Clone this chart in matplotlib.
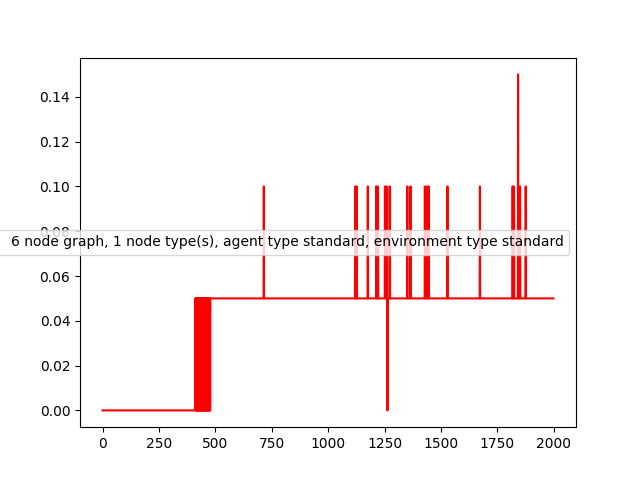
"""Reward trace for the 6-node graph run, redrawn as a single red line."""

import numpy as np
import matplotlib

matplotlib.use("Agg")
import matplotlib.pyplot as plt

N_STEPS = 2000
START_LEVEL = 411        # first step at 0.05
BASE = 0.05
# steps inside the early burst where the value drops back to 0
BURST_ZEROS = [412, 414, 415, 417, 419, 421, 422, 424, 426, 428, 430, 431,
               433, 435, 437, 439, 440, 442, 444, 446, 448, 449, 451, 453,
               455, 457, 458, 460, 462, 464, 466, 467, 469, 471, 473, 475, 477]
SPIKES_010 = [715, 1120, 1127, 1176, 1214, 1221, 1252, 1259, 1273, 1351,
              1365, 1429, 1438, 1446, 1529, 1673, 1818, 1824, 1851, 1876]
DIPS_000 = [1263]
SPIKES_015 = [1842]
LABEL = "6 node graph, 1 node type(s), agent type standard, environment type standard"


def main() -> None:
    x = np.arange(N_STEPS)
    y = np.zeros(N_STEPS)
    y[START_LEVEL:] = BASE
    y[BURST_ZEROS] = 0.0
    y[SPIKES_010] = 0.10
    y[DIPS_000] = 0.0
    y[SPIKES_015] = 0.15

    fig, ax = plt.subplots(figsize=(6.4, 4.8), dpi=100)
    ax.plot(x, y, color="red", label=LABEL)
    # reference legend shows no line sample
    ax.legend(loc="center right", handlelength=0)
    fig.savefig("out.png")


if __name__ == "__main__":
    main()
